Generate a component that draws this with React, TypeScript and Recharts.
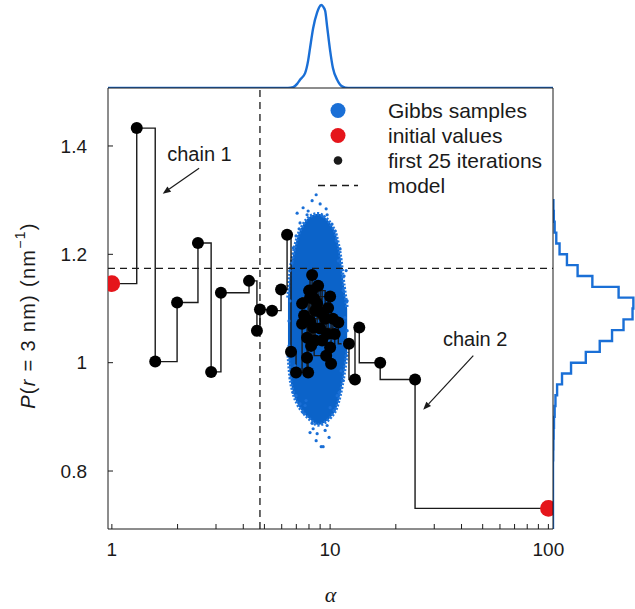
import React from 'react'
import {
  ComposedChart,
  LineChart,
  Line,
  Area,
  Scatter,
  XAxis,
  YAxis,
  ReferenceLine,
  ReferenceDot,
} from 'recharts'

// chain traces: first entry is the initial value (red), then 25 Gibbs iterations
const chain1Alpha = [1, 1.3, 1.58, 1.99, 2.48, 2.85, 3.16, 4.25, 4.62, 4.77, 5.42, 5.96, 6.35, 6.62, 6.98, 7.44, 7.93, 7.84, 8.27, 8.09, 8.54, 8.36, 8.72, 8.09, 7.44, 7.84]
const chain1P = [1.146, 1.433, 1.002, 1.111, 1.221, 0.983, 1.129, 1.151, 1.059, 1.098, 1.096, 1.135, 1.236, 1.02, 0.982, 1.109, 0.982, 1.046, 1.162, 1.077, 1.041, 1.065, 1.109, 1.12, 1.072, 1.009]
const chain2Alpha = [100, 24.5, 16.96, 13.6, 13.0, 12.2, 10.9, 10.1, 10.0, 10.5, 9.69, 9.79, 10.0, 8.54, 8.27, 9.49, 8.81, 9.19, 8.01, 9.0, 10.3, 7.6, 9.59, 8.45, 9.1, 8.18]
const chain2P = [0.731, 0.969, 1.0, 1.065, 0.969, 1.035, 1.074, 0.998, 1.028, 1.053, 1.053, 1.101, 1.122, 1.096, 1.133, 1.081, 1.142, 1.041, 1.133, 1.063, 1.081, 1.087, 1.013, 1.118, 1.092, 1.031]

// dense part of the Gibbs sample cloud (P range per alpha)
const cloudAlpha = [6.41, 6.55, 6.77, 7.06, 7.52, 8.09, 8.81, 9.49, 10.1, 10.66, 11.11, 11.59, 11.97]
const cloudLow = [1.02, 0.975, 0.945, 0.925, 0.908, 0.895, 0.885, 0.89, 0.9, 0.915, 0.94, 0.98, 1.02]
const cloudHigh = [1.12, 1.165, 1.2, 1.23, 1.255, 1.27, 1.275, 1.268, 1.255, 1.235, 1.2, 1.14, 1.1]

// sparse samples around the cloud edge
const speckAlpha = [8.63, 7.52, 7.06, 9.19, 10.2, 6.77, 10.9, 11.47, 11.7, 11.47, 6.77, 7.28, 7.52, 10.0, 8.27, 9.69, 8.09, 9.89, 8.63, 6.55, 6.48, 11.84, 11.97, 10.66, 7.21, 7.93, 9.59, 11.23, 10.77, 6.91, 9.1, 7.76,
  8.27, 9.0, 7.84, 9.69, 7.28, 10.54, 6.98, 11.11, 6.69, 11.59, 6.55, 11.97, 6.48, 11.84, 6.62, 11.47, 6.98, 11.0, 7.68, 10.43, 8.72, 9.49, 8.36, 9.29]
const speckP = [1.31, 1.286, 1.276, 1.271, 1.256, 1.212, 1.188, 1.133, 1.083, 1.035, 0.945, 0.924, 0.908, 0.917, 0.888, 0.884, 0.871, 0.862, 0.856, 1.17, 1.077, 1.17, 1.059, 1.225, 1.247, 1.28, 1.284, 0.985, 0.939, 0.994, 0.845, 0.93,
  1.299, 1.293, 1.273, 1.273, 1.258, 1.243, 1.234, 1.21, 1.184, 1.16, 1.114, 1.114, 1.031, 1.013, 0.976, 0.967, 0.939, 0.945, 0.921, 0.912, 0.869, 0.875, 0.878, 0.845]

// marginal of alpha (top)
const topAlpha = [0.96, 6.41, 6.77, 7.06, 7.28, 7.68, 7.93, 8.09, 8.36, 8.72, 8.9, 9.1, 9.29, 9.49, 9.69, 10.0, 10.3, 10.77, 11.35, 12.1, 105]
const topDensity = [0, 0, 0.01, 0.05, 0.1, 0.18, 0.33, 0.48, 0.72, 0.91, 0.97, 1.0, 0.98, 0.93, 0.74, 0.45, 0.24, 0.1, 0.02, 0, 0]

// marginal histogram of P (right)
const rightP = [0.693, 0.8, 0.82, 0.84, 0.86, 0.88, 0.9, 0.92, 0.94, 0.96, 0.98, 1.0, 1.02, 1.04, 1.06, 1.08, 1.1, 1.12, 1.14, 1.16, 1.18, 1.2, 1.22, 1.24, 1.26, 1.28, 1.3]
const rightCount = [0, 0, 0.003, 0.005, 0.008, 0.012, 0.02, 0.03, 0.05, 0.11, 0.22, 0.4, 0.57, 0.72, 0.86, 0.97, 0.98, 0.8, 0.48, 0.3, 0.17, 0.08, 0.04, 0.02, 0.01, 0.005, 0]

const modelAlpha = 4.77
const modelP = 1.174

const xTicks = [1, 2, 3, 4, 5, 6, 7, 8, 9, 10, 20, 30, 40, 50, 60, 70, 80, 90, 100]
const xMajor = [1, 10, 100]
const yTicks = [0.8, 1, 1.2, 1.4]

const chainLabels = ['chain 1', 'chain 2']
const labelAlpha = [2.52, 46.2]
const labelP = [1.385, 1.044]
const arrowFromAlpha = [2.51, 45.3]
const arrowFromP = [1.359, 1.013]
const arrowToAlpha = [1.71, 26.7]
const arrowToP = [1.312, 0.913]

const legendLabels = ['Gibbs samples', 'initial values', 'first 25 iterations', 'model']

const X_DOMAIN = [0.96, 105]
const Y_DOMAIN = [0.693, 1.507]
const BLUE = '#1a6fd6'
const CLOUD = '#0b63c9'
const RED = '#e5151b'
const INK = '#1a1a1a'
const FONT = '"Liberation Sans", Arial, Helvetica, sans-serif'

const chain1 = chain1Alpha.map((a, i) => ({ a, p: chain1P[i] }))
const chain2 = chain2Alpha.map((a, i) => ({ a, p: chain2P[i] }))
const iterations = [...chain1.slice(1), ...chain2.slice(1)]
const initial = [chain1[0], chain2[0]]
const cloud = cloudAlpha.map((a, i) => ({ a, range: [cloudLow[i], cloudHigh[i]] }))
const specks = speckAlpha.map((a, i) => ({ a, p: speckP[i] }))
const topData = topAlpha.map((a, i) => ({ a, d: topDensity[i] }))
const rightData = rightP.map((p, i) => ({ v: rightCount[i], p }))

const circle = (r: number, fill: string) => (props: any) =>
  <circle cx={props.cx} cy={props.cy} r={r} fill={fill} />

function Arrow(props: any) {
  const { x1, y1, x2, y2 } = props
  const ang = Math.atan2(y2 - y1, x2 - x1)
  const L = 8
  const W = 3.2
  const bx = x2 - L * Math.cos(ang)
  const by = y2 - L * Math.sin(ang)
  const pts = [
    `${x2},${y2}`,
    `${bx - W * Math.sin(ang)},${by + W * Math.cos(ang)}`,
    `${bx + W * Math.sin(ang)},${by - W * Math.cos(ang)}`,
  ].join(' ')
  return (
    <g>
      <line x1={x1} y1={y1} x2={bx} y2={by} stroke={INK} strokeWidth={1.2} />
      <polygon points={pts} fill={INK} />
    </g>
  )
}

function YLabel(props: any) {
  const vb = props.viewBox || {}
  const cx = vb.x + 28
  const cy = vb.y + vb.height / 2 + 7
  return (
    <text
      x={cx}
      y={cy}
      transform={`rotate(-90, ${cx}, ${cy})`}
      textAnchor="middle"
      dominantBaseline="central"
      fontSize={20}
      fill={INK}
      fontFamily={FONT}
      letterSpacing={1.3}
    >
      <tspan fontStyle="italic">P</tspan>(<tspan fontStyle="italic">r</tspan> = 3 nm) (nm
      <tspan dy={-8} fontSize={14}>−1</tspan>
      <tspan dy={8}>)</tspan>
    </text>
  )
}

function Legend() {
  return (
    <div style={{ position: 'absolute', left: 318, top: 98, fontFamily: FONT, fontSize: 21, color: INK }}>
      {legendLabels.map((label, i) => (
        <div key={label} style={{ display: 'flex', alignItems: 'center', height: 25 }}>
          <svg width={70} height={25}>
            {i === 0 && <circle cx={20} cy={12.5} r={7.5} fill={BLUE} />}
            {i === 1 && <circle cx={20} cy={12.5} r={7.5} fill={RED} />}
            {i === 2 && <circle cx={20} cy={12.5} r={4.3} fill={INK} />}
            {i === 3 && <line x1={0} x2={40} y1={12.5} y2={12.5} stroke={INK} strokeWidth={1.3} strokeDasharray="7 5" />}
          </svg>
          <span style={{ lineHeight: '25px', whiteSpace: 'nowrap' }}>{label}</span>
        </div>
      ))}
    </div>
  )
}

export default function App() {
  return (
    <div style={{ position: 'absolute', left: 0, top: 0, width: 635, height: 609, background: '#fff', fontFamily: FONT }}>
      <div style={{ position: 'absolute', left: 0, top: 0 }}>
        <ComposedChart width={635} height={609} margin={{ top: 88, right: 82, bottom: 0, left: 0 }}>
          <XAxis
            dataKey="a"
            type="number"
            scale="log"
            domain={X_DOMAIN}
            allowDataOverflow
            ticks={xTicks}
            interval={0}
            tickFormatter={(v: number) => (xMajor.includes(v) ? String(v) : '')}
            height={80}
            tickSize={-5}
            tickMargin={19}
            stroke={INK}
            tick={{ fontSize: 19, fill: INK, fontFamily: FONT }}
            label={{ value: 'α', position: 'insideBottom', offset: 7, style: { fontStyle: 'italic', fontFamily: '"Liberation Serif", serif', fontSize: 22, fill: INK } }}
          />
          <YAxis
            dataKey="p"
            type="number"
            domain={Y_DOMAIN}
            allowDataOverflow
            ticks={yTicks}
            interval={0}
            tickFormatter={(v: number) => String(v)}
            width={108}
            tickSize={-5}
            tickMargin={26}
            stroke={INK}
            tick={{ fontSize: 19, fill: INK, fontFamily: FONT }}
            label={{ content: (p: any) => <YLabel {...p} /> }}
          />
          <Area
            data={cloud}
            dataKey="range"
            type="monotone"
            fill={CLOUD}
            fillOpacity={1}
            stroke="#1f74da"
            strokeWidth={3.5}
            strokeDasharray="2 1.6"
            isAnimationActive={false}
          />
          <Scatter data={specks} shape={circle(1.6, BLUE)} isAnimationActive={false} />
          <ReferenceLine x={modelAlpha} stroke={INK} strokeWidth={1.3} strokeDasharray="7 5" />
          <ReferenceLine y={modelP} stroke={INK} strokeWidth={1.3} strokeDasharray="7 5" />
          <Line data={chain1} dataKey="p" type="stepAfter" stroke={INK} strokeWidth={1.4} dot={false} isAnimationActive={false} />
          <Line data={chain2} dataKey="p" type="stepAfter" stroke={INK} strokeWidth={1.4} dot={false} isAnimationActive={false} />
          <Scatter data={iterations} shape={circle(6, '#000')} isAnimationActive={false} />
          <Scatter data={initial} shape={circle(8.3, RED)} isAnimationActive={false} />
          {chainLabels.map((t, i) => (
            <ReferenceLine
              key={'arrow' + i}
              segment={[
                { x: arrowFromAlpha[i], y: arrowFromP[i] },
                { x: arrowToAlpha[i], y: arrowToP[i] },
              ]}
              shape={Arrow}
              ifOverflow="visible"
            />
          ))}
          {chainLabels.map((t, i) => (
            <ReferenceDot
              key={'lab' + i}
              x={labelAlpha[i]}
              y={labelP[i]}
              r={0}
              fill="none"
              stroke="none"
              ifOverflow="visible"
              label={{ value: t, position: 'center', fontSize: 20, fill: INK, fontFamily: FONT }}
            />
          ))}
        </ComposedChart>
      </div>

      <div style={{ position: 'absolute', left: 108, top: 0 }}>
        <LineChart width={445} height={96} data={topData} margin={{ top: 0, right: 0, bottom: 0, left: 0 }}>
          <XAxis
            dataKey="a"
            type="number"
            scale="log"
            domain={X_DOMAIN}
            allowDataOverflow
            ticks={xTicks}
            interval={0}
            tick={false}
            tickSize={5}
            height={8}
            stroke={INK}
          />
          <YAxis hide type="number" domain={[0, 1.06]} allowDataOverflow />
          <Line dataKey="d" type="monotone" stroke={BLUE} strokeWidth={2.4} dot={false} isAnimationActive={false} />
        </LineChart>
      </div>

      <div style={{ position: 'absolute', left: 540, top: 88 }}>
        <LineChart width={95} height={441} data={rightData} margin={{ top: 0, right: 0, bottom: 0, left: 0 }}>
          <XAxis dataKey="v" type="number" hide domain={[0, 1]} allowDataOverflow />
          <YAxis
            type="number"
            domain={Y_DOMAIN}
            allowDataOverflow
            ticks={yTicks}
            interval={0}
            tick={false}
            tickSize={5}
            width={13}
            stroke={INK}
          />
          <Line dataKey="p" type="stepBefore" stroke={BLUE} strokeWidth={2.4} dot={false} isAnimationActive={false} />
        </LineChart>
      </div>

      <Legend />
    </div>
  )
}
